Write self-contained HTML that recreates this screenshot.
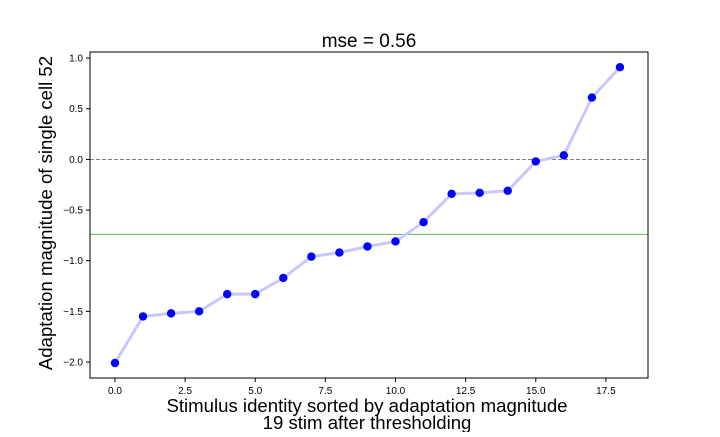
<!DOCTYPE html>
<html><head><meta charset="utf-8"><style>
body{margin:0;background:#fff;font-family:"Liberation Sans",sans-serif;}
svg text{font-family:"Liberation Sans",sans-serif;}
</style></head><body>
<svg width="720" height="432" viewBox="0 0 720 432" id="chart">
<rect width="720" height="432" fill="#fff"/>
<text x="369" y="47" font-size="19" text-anchor="middle">mse = 0.56</text>
<g id="grid"></g>
<g id="axes"></g>
<g id="marks"></g>
<rect x="90" y="52" width="558" height="326" fill="none" stroke="#000" stroke-width="1"/>
<text x="367" y="412" font-size="18.6" text-anchor="middle">Stimulus identity sorted by adaptation magnitude</text>
<text x="367" y="429" font-size="18.6" text-anchor="middle">19 stim after thresholding</text>
<text transform="translate(52,213) rotate(-90)" font-size="18.6" text-anchor="middle">Adaptation magnitude of single cell 52</text>
</svg>
<script>
const categories = [0,1,2,3,4,5,6,7,8,9,10,11,12,13,14,15,16,17,18];
const values = [-2.01,-1.55,-1.52,-1.50,-1.33,-1.33,-1.17,-0.96,-0.92,-0.86,-0.81,-0.62,-0.34,-0.33,-0.31,-0.02,0.04,0.61,0.91];
const xTicks = [0,2.5,5,7.5,10,12.5,15,17.5];
const xTickLabels = ["0.0","2.5","5.0","7.5","10.0","12.5","15.0","17.5"];
const yTicks = [-2,-1.5,-1,-0.5,0,0.5,1];
const yTickLabels = ["−2.0","−1.5","−1.0","−0.5","0.0","0.5","1.0"];
const zeroLine = 0;
const thresholdLine = -0.74;

const L=90,R=648,T=52,B=378;
const xMin=-0.89,xMax=19.0,yMin=-2.158,yMax=1.06;
const sx=v=>L+(v-xMin)/(xMax-xMin)*(R-L);
const sy=v=>B-(v-yMin)/(yMax-yMin)*(B-T);
const NS="http://www.w3.org/2000/svg";
function mk(tag,attrs,parent,txt){const e=document.createElementNS(NS,tag);for(const k in attrs)e.setAttribute(k,attrs[k]);if(txt!==undefined)e.textContent=txt;parent.appendChild(e);return e;}
const axes=document.getElementById('axes'),marks=document.getElementById('marks'),grid=document.getElementById('grid');
xTicks.forEach((t,i)=>{
  const l=mk('line',{x1:sx(t),x2:sx(t),y1:B,y2:B+4,stroke:'#000'},axes);
  
  
  const tx=mk('text',{x:sx(t),y:B+16,'font-size':10,'text-anchor':'middle'},axes,xTickLabels[i]);
  
  
});
yTicks.forEach((t,i)=>{
  const l=mk('line',{x1:L-4,x2:L,y1:sy(t),y2:sy(t),stroke:'#000'},axes);
  
  
  const tx=mk('text',{x:L-7,y:sy(t)+3.5,'font-size':10,'text-anchor':'end'},axes,yTickLabels[i]);
  
  
});
const z=mk('line',{x1:L,x2:R,y1:sy(zeroLine),y2:sy(zeroLine),stroke:'#555','stroke-width':0.8,'stroke-dasharray':'4,2'},grid);


const th=mk('line',{x1:L,x2:R,y1:sy(thresholdLine),y2:sy(thresholdLine),stroke:'#5cb85c','stroke-width':1},grid);


const pts=categories.map((c,i)=>sx(c)+','+sy(values[i])).join(' ');
const pl=mk('polyline',{points:pts,fill:'none',stroke:'#c8c8ff','stroke-width':3,'stroke-linejoin':'round'},marks);


categories.forEach((c,i)=>{
  const p=mk('circle',{cx:sx(c),cy:sy(values[i]),r:4.2,fill:'#0000ff'},marks);
  
  
});
</script>
</body></html>
